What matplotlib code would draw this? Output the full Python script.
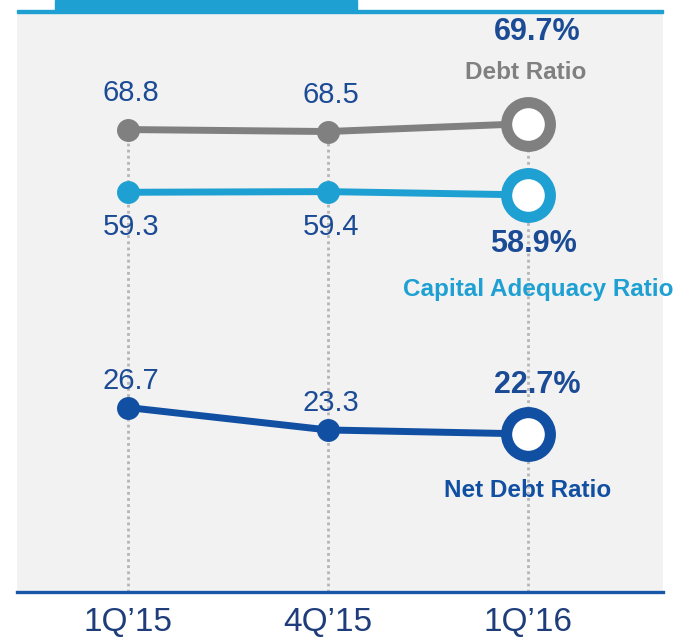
import matplotlib.pyplot as plt
from matplotlib.patches import Rectangle

quarters = ["1Q\u201915", "4Q\u201915", "1Q\u201916"]
debt_ratio = [68.8, 68.5, 69.7]
capital_adequacy = [59.3, 59.4, 58.9]
net_debt_ratio = [26.7, 23.3, 22.7]

GRAY = "#808080"
LIGHT = "#1fa0d3"
DARK = "#114fa2"
LABEL = "#1c4b96"
TICK = "#1f3d7a"

plt.rcParams['font.family'] = ["Liberation Sans", "DejaVu Sans"]

fig = plt.figure(figsize=(6.75, 6.41), dpi=100)
ax = fig.add_axes([17 / 675, 1 - 592 / 641, 646 / 675, 578 / 641])
ax.set_facecolor("#f2f2f2")
ax.set_xlim(-0.555, 2.675)
ax.set_ylim(-1.24, 86.3)

x = list(range(len(quarters)))

# dotted guides up to the top series
ax.vlines(x, -1.24, debt_ratio, colors="#b5b5b5", linestyles=(0, (1, 1.2)), lw=2, zorder=1)

series = [
    (debt_ratio, GRAY, 37),
    (capital_adequacy, LIGHT, -35),
    (net_debt_ratio, DARK, 27),
]
for vals, col, off in series:
    ax.plot(x, vals, color=col, lw=5, zorder=2)
    ax.plot(x[:-1], vals[:-1], "o", color=col, ms=15.5, zorder=3)
    ax.plot(x[-1], vals[-1], "o", mfc="white", mec=col, ms=31.5, mew=8, zorder=4)
    for xi, v in zip(x[:-1], vals[:-1]):
        ax.annotate(f"{v:.1f}", (xi, v), xytext=(3, off), textcoords="offset pixels",
                    ha="center", va="center", fontsize=21, color=LABEL)

# end labels
ends = [
    (debt_ratio, (9, 92), "Debt Ratio", GRAY, (-2, 51)),
    (capital_adequacy, (5, -49), "Capital Adequacy Ratio", LIGHT, (10, -95)),
    (net_debt_ratio, (9, 49), "Net Debt Ratio", DARK, (0, -57)),
]
for vals, poff, name, col, noff in ends:
    ax.annotate(f"{vals[-1]:.1f}%", (x[-1], vals[-1]), xytext=poff, textcoords="offset pixels",
                ha="center", va="center", fontsize=22, fontweight="bold", color=LABEL)
    ax.annotate(name, (x[-1], vals[-1]), xytext=noff, textcoords="offset pixels",
                ha="center", va="center", fontsize=17.5, fontweight="bold", color=col)

for s in ["top", "left", "right"]:
    ax.spines[s].set_visible(False)
ax.spines["bottom"].set_color("#1a56a8")
ax.spines["bottom"].set_linewidth(2.4)
ax.set_yticks([])
ax.set_xticks(x)
ax.set_xticklabels(quarters, fontsize=24, color=TICK)
ax.tick_params(axis="x", length=0, pad=11)

# top decoration
fig.patches.append(Rectangle((17 / 675, 1 - 13 / 641), 646 / 675, 3 / 641,
                             transform=fig.transFigure, color=LIGHT, zorder=5))
fig.patches.append(Rectangle((55 / 675, 1 - 12 / 641), 302 / 675, 12 / 641,
                             transform=fig.transFigure, color=LIGHT, zorder=6))

fig.savefig("out.png", dpi=100)
